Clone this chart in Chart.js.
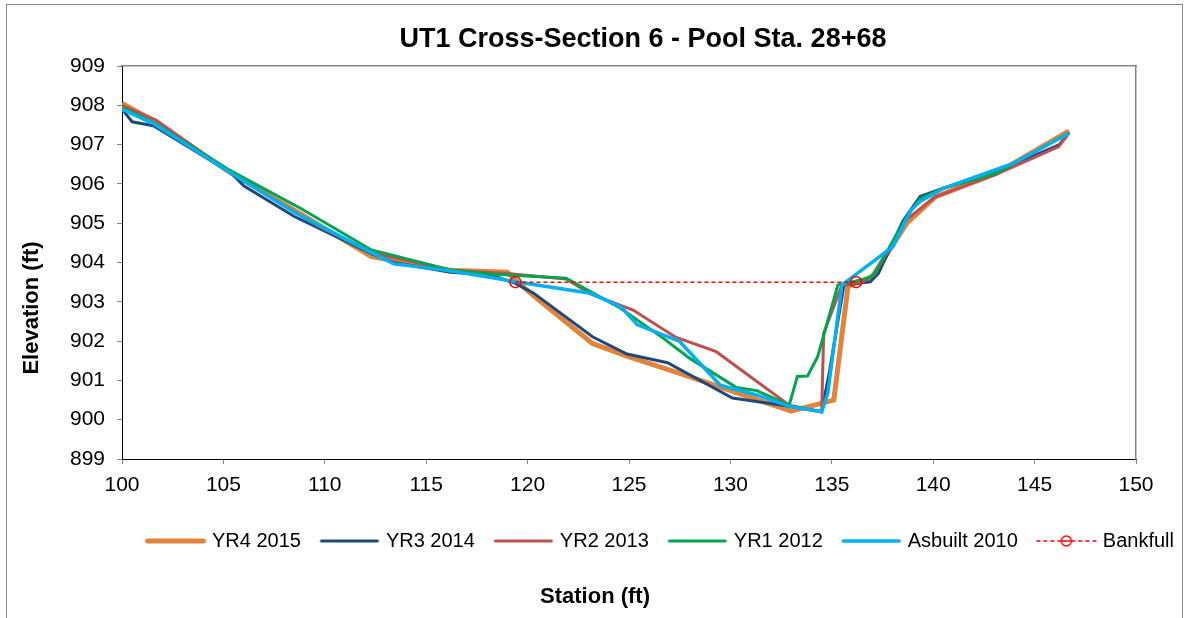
<!DOCTYPE html>
<html lang="en">
<head>
<meta charset="UTF-8">
<title>UT1 Cross-Section 6 - Pool Sta. 28+68</title>
<script src="https://cdn.jsdelivr.net/npm/chart.js@4/dist/chart.umd.min.js"></script>
<style>
  * { margin: 0; padding: 0; box-sizing: border-box; }
  body { background: #fff; width: 1190px; height: 618px; overflow: hidden; }
  #wrap { position: relative; width: 1190px; height: 618px; }
</style>
</head>
<body>
<div id="wrap"><canvas id="chart" width="1190" height="618"></canvas></div>
<script>
// Axis ticks
const X_TICKS = [100, 105, 110, 115, 120, 125, 130, 135, 140, 145, 150];
const Y_TICKS = [899, 900, 901, 902, 903, 904, 905, 906, 907, 908, 909];

// Survey series: station (ft) and elevation (ft)
const yr4Sta  = [100, 101.6, 105.3, 108.6, 112.3, 116.2, 119.0, 119.4, 120.3, 123.2, 124.9, 127.5, 133.0, 135.1, 135.8, 137.0, 138.7, 140.1, 143.1, 146.7];
const yr4Elev = [908.05, 907.6, 906.3, 905.3, 904.15, 903.8, 903.75, 903.55, 903.15, 901.94, 901.62, 901.18, 900.22, 900.5, 903.4, 903.64, 905.0, 905.67, 906.27, 907.35];

const yr3Sta  = [100, 100.5, 101.55, 105.4, 106.0, 108.5, 112.4, 113.4, 116.2, 118.2, 119.4, 120.3, 123.2, 124.9, 126.9, 130.1, 132.9, 134.5, 134.9, 135.6, 136.9, 137.3, 138.5, 139.35, 140.5, 143.1, 146.2, 146.7];
const yr3Elev = [907.9, 907.58, 907.48, 906.27, 905.95, 905.17, 904.2, 904.0, 903.75, 903.68, 903.47, 903.22, 902.11, 901.67, 901.45, 900.55, 900.34, 900.2, 901.27, 903.43, 903.51, 903.72, 905.05, 905.68, 905.89, 906.3, 906.99, 907.3];

const yr2Sta  = [100, 101.7, 105.3, 109.6, 112.3, 116.2, 119.0, 121.9, 123.1, 125.2, 127.3, 129.3, 132.9, 134.5, 134.6, 135.5, 136.5, 137.1, 138.7, 140.1, 143.05, 146.2, 146.7];
const yr2Elev = [908.0, 907.62, 906.3, 904.95, 904.25, 903.8, 903.72, 903.58, 903.2, 902.79, 902.1, 901.73, 900.37, 900.2, 902.2, 903.43, 903.5, 903.7, 905.1, 905.67, 906.23, 906.95, 907.3];

const yr1Sta  = [100, 101.6, 105.3, 108.8, 112.3, 116.3, 118.2, 121.9, 123.1, 124.6, 126.7, 128.0, 130.3, 131.3, 132.9, 133.3, 133.8, 134.3, 135.3, 136.8, 137.1, 138.7, 139.35, 140.5, 143.1, 146.7];
const yr1Elev = [907.95, 907.55, 906.35, 905.38, 904.32, 903.8, 903.71, 903.6, 903.26, 902.83, 902.07, 901.56, 900.82, 900.74, 900.37, 901.1, 901.11, 901.6, 903.43, 903.6, 903.72, 905.17, 905.63, 905.89, 906.27, 907.3];

const asbSta  = [100, 101.6, 105.3, 108.6, 112.3, 113.4, 116.0, 118.2, 119.4, 123.1, 124.6, 125.4, 127.5, 129.5, 131.3, 132.9, 134.5, 134.8, 135.5, 138.0, 138.9, 139.35, 140.5, 143.95, 146.7];
const asbElev = [907.9, 907.52, 906.3, 905.25, 904.25, 903.97, 903.8, 903.62, 903.51, 903.22, 902.87, 902.42, 901.99, 900.88, 900.63, 900.34, 900.2, 900.67, 903.43, 904.4, 905.33, 905.55, 905.89, 906.52, 907.29];

const bkfSta  = [119.4, 136.2];
const bkfElev = [903.5, 903.5];

const FONT = '"Liberation Sans", Arial, sans-serif';

function pts(sta, elev) { return sta.map((s, i) => ({ x: s, y: elev[i] })); }

function series(label, sta, elev, color, width, order) {
  return {
    label, data: pts(sta, elev), borderColor: color, backgroundColor: color,
    borderWidth: width, pointRadius: 0, tension: 0, order,
  };
}

// little canvases used as legend samples (60px line, shifted right so the text sits close)
function lineIcon(color, width, dashed) {
  const c = document.createElement('canvas');
  c.width = 70; c.height = 14;
  const g = c.getContext('2d');
  g.strokeStyle = color; g.lineWidth = width; g.lineCap = dashed ? 'butt' : 'round';
  if (dashed) g.setLineDash([4, 3]);
  g.beginPath(); g.moveTo(dashed ? 8 : 10, 7); g.lineTo(dashed ? 68 : 66, 7); g.stroke();
  if (dashed) {
    g.setLineDash([]); g.lineWidth = 1.5;
    g.fillStyle = '#fff';
    g.beginPath(); g.arc(38, 7, 5, 0, Math.PI * 2); g.fill(); g.stroke();
    g.beginPath(); g.moveTo(33, 7); g.lineTo(43, 7); g.stroke();
  }
  return c;
}

const datasets = [
  series('YR4 2015', yr4Sta, yr4Elev, '#E0843C', 5, 5),
  series('YR3 2014', yr3Sta, yr3Elev, '#1F497D', 3, 4),
  series('YR2 2013', yr2Sta, yr2Elev, '#C0504D', 3, 3),
  series('YR1 2012', yr1Sta, yr1Elev, '#00A550', 3, 2),
  series('Asbuilt 2010', asbSta, asbElev, '#00B0F0', 3.5, 1),
  {
    label: 'Bankfull', data: pts(bkfSta, bkfElev), borderColor: '#FF0000', borderWidth: 1.5,
    borderDash: [4, 3], pointRadius: 5.5, pointBorderWidth: 1.5, pointBorderColor: '#FF0000',
    pointBackgroundColor: 'rgba(255,255,255,0)', tension: 0, order: 0,
  },
];
const icons = [
  lineIcon('#E0843C', 5), lineIcon('#1F497D', 3), lineIcon('#C0504D', 3),
  lineIcon('#00A550', 3), lineIcon('#00B0F0', 3.5), lineIcon('#FF0000', 1.5, true),
];

// title, y axis title and outer frame drawn by hand so they sit where Excel put them
const decorations = {
  id: 'decorations',
  afterDraw(chart) {
    const ctx = chart.ctx;
    ctx.save();
    ctx.strokeStyle = '#868686'; ctx.lineWidth = 1;
    ctx.strokeRect(6.5, 4.5, 1176, 640);
    ctx.fillStyle = '#000';
    ctx.textAlign = 'center';
    ctx.textBaseline = 'alphabetic';
    ctx.font = 'bold 27px ' + FONT;
    ctx.fillText('UT1 Cross-Section 6 - Pool Sta. 28+68', 643, 47);
    ctx.translate(32, 308);
    ctx.rotate(-Math.PI / 2);
    ctx.textBaseline = 'middle';
    ctx.font = 'bold 22px ' + FONT;
    ctx.fillText('Elevation (ft)', 0, 0);
    ctx.restore();
  },
};

new Chart(document.getElementById('chart'), {
  type: 'line',
  data: { datasets },
  plugins: [decorations],
  options: {
    responsive: false,
    animation: false,
    layout: { padding: { top: 66, left: 0, right: 0, bottom: 0 } },
    plugins: {
      tooltip: { enabled: false },
      title: { display: false },
      legend: {
        position: 'bottom',
        align: 'end',
        labels: {
          font: { family: FONT, size: 20 }, color: '#000', padding: 16,
          usePointStyle: true, pointStyleWidth: 59,
          sort: (a, b) => a.datasetIndex - b.datasetIndex,
          generateLabels(chart) {
            const items = Chart.defaults.plugins.legend.labels.generateLabels(chart);
            items.forEach(it => { it.pointStyle = icons[it.datasetIndex]; });
            return items;
          },
        },
      },
      subtitle: {
        display: true, position: 'bottom', text: 'Station (ft)', color: '#000',
        font: { family: FONT, size: 22, weight: 'bold' },
        padding: { top: 22.8, bottom: 7.8 },
      },
    },
    scales: {
      x: {
        type: 'linear', min: 100, max: 150,
        afterBuildTicks: s => { s.ticks = X_TICKS.map(v => ({ value: v })); },
        afterFit: s => { s.height = 56; },
        ticks: { font: { family: FONT, size: 21 }, color: '#000', padding: 9, maxRotation: 0 },
        grid: { drawOnChartArea: false, drawTicks: true, tickLength: 5, tickColor: '#868686' },
        border: { color: '#000', width: 1 },
      },
      y: {
        type: 'linear', min: 899, max: 909,
        afterBuildTicks: s => { s.ticks = Y_TICKS.map(v => ({ value: v })); },
        afterFit: s => { s.width = 122; },
        ticks: { font: { family: FONT, size: 21 }, color: '#000', padding: 12 },
        grid: { drawOnChartArea: false, drawTicks: true, tickLength: 5, tickColor: '#868686' },
        border: { color: '#000', width: 1 },
      },
      xTop: {
        type: 'linear', position: 'top', min: 100, max: 150,
        afterFit: s => { s.height = 0; },
        ticks: { display: false },
        grid: { display: false },
        border: { color: '#868686', width: 1.5 },
      },
      yRight: {
        type: 'linear', position: 'right', min: 899, max: 909,
        afterFit: s => { s.width = 54; },
        ticks: { display: false },
        grid: { display: false },
        border: { color: '#868686', width: 1.5 },
      },
    },
  },
});
</script>
</body>
</html>
